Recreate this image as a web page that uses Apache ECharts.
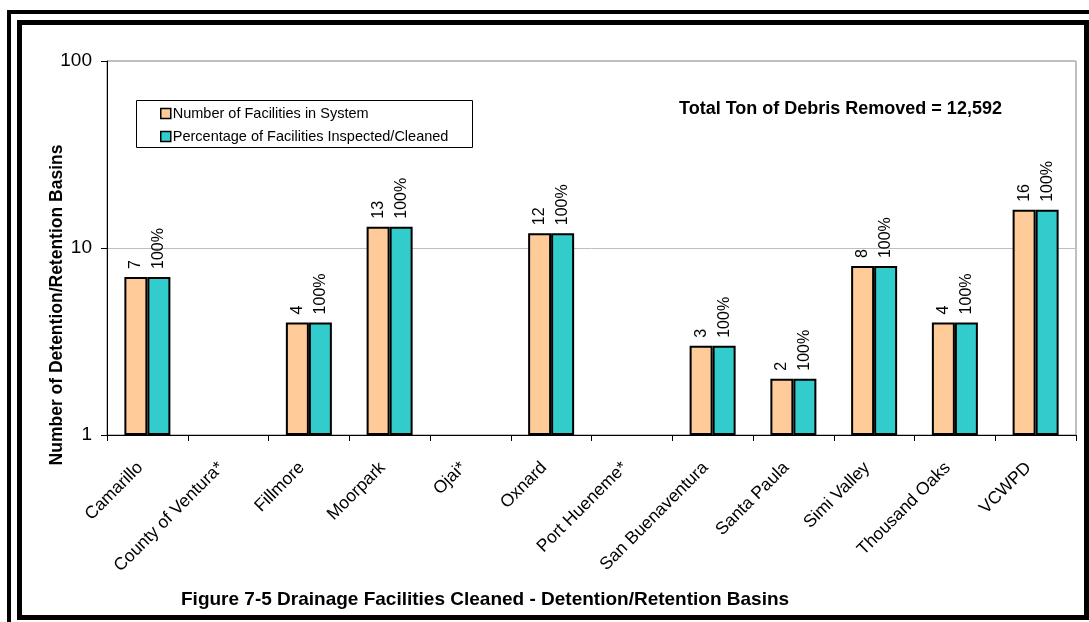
<!DOCTYPE html>
<html>
<head>
<meta charset="utf-8">
<script src="https://cdn.jsdelivr.net/npm/echarts@6/dist/echarts.min.js"></script>
<style>
  html, body { margin: 0; padding: 0; background: #fff; }
  #chart { width: 1089px; height: 622px; }
</style>
</head>
<body>
<div id="chart"></div>
<script>
// Detention/retention basins by agency
const categories = ['Camarillo', 'County of Ventura*', 'Fillmore', 'Moorpark', 'Ojai*', 'Oxnard',
  'Port Hueneme*', 'San Buenaventura', 'Santa Paula', 'Simi Valley', 'Thousand Oaks', 'VCWPD'];
const facilityCounts = [7, null, 4, 13, null, 12, null, 3, 2, 8, 4, 16];
const percentCleaned = [100, null, 100, 100, null, 100, null, 100, 100, 100, 100, 100];
const yTickValues = [1, 10, 100];
const seriesNames = ['Number of Facilities in System', 'Percentage of Facilities Inspected/Cleaned'];
const totalDebrisText = 'Total Ton of Debris Removed = 12,592';
const figureCaption = 'Figure 7-5 Drainage Facilities Cleaned - Detention/Retention Basins';
const yAxisTitle = 'Number of Detention/Retention Basins';

// facilities inspected = facilities in system x percentage
const inspectedCounts = facilityCounts.map((n, i) => (n == null ? null : n * percentCleaned[i] / 100));

const FONT = "'Liberation Sans', Arial, sans-serif";

const chart = echarts.init(document.getElementById('chart'), null, { renderer: 'canvas' });

const barLabel = {
  show: true,
  position: 'top',
  rotate: 90,
  align: 'left',
  verticalAlign: 'middle',
  distance: 8,
  fontFamily: FONT,
  fontSize: 16,
  color: '#000'
};

chart.setOption({
  animation: false,
  backgroundColor: '#fff',
  grid: {
    left: 107, right: 13, top: 61, bottom: 187,
    show: true, borderColor: '#808080', borderWidth: 1, backgroundColor: 'transparent'
  },
  legend: {
    orient: 'vertical',
    left: 155, top: 101,
    itemWidth: 10, itemHeight: 10, itemGap: 8,
    icon: 'rect',
    itemStyle: { borderColor: '#000', borderWidth: 1.5 },
    textStyle: { fontFamily: FONT, fontSize: 14.5, color: '#000', padding: [0, 0, 0, -3], lineHeight: 14 },
    data: seriesNames
  },
  xAxis: {
    type: 'category',
    data: categories,
    boundaryGap: true,
    axisLine: { lineStyle: { color: '#000', width: 1 } },
    axisTick: { show: true, length: 6, lineStyle: { color: '#000' } },
    axisLabel: {
      rotate: 45, margin: 23, interval: 0,
      padding: [0, 10, 0, 0],
      fontFamily: FONT, fontSize: 17.5, color: '#000'
    },
    splitLine: { show: false }
  },
  yAxis: {
    type: 'log',
    logBase: 10,
    min: yTickValues[0],
    max: yTickValues[yTickValues.length - 1],
    axisLine: { show: true, lineStyle: { color: '#000', width: 1 } },
    axisTick: { show: true, length: 6, lineStyle: { color: '#000' } },
    axisLabel: { margin: 15, fontFamily: FONT, fontSize: 19, color: '#000' },
    splitLine: { show: true, lineStyle: { color: '#BFBFBF', width: 1 } },
    minorTick: { show: false }
  },
  series: [
    {
      name: seriesNames[0],
      type: 'bar',
      data: facilityCounts,
      barWidth: 23,
      barGap: '0%',
      itemStyle: { color: '#FFCC99', borderColor: '#000', borderWidth: 2 },
      label: Object.assign({}, barLabel, { formatter: p => String(p.value) })
    },
    {
      name: seriesNames[1],
      type: 'bar',
      data: inspectedCounts,
      barWidth: 23,
      itemStyle: { color: '#33CCCC', borderColor: '#000', borderWidth: 2 },
      label: Object.assign({}, barLabel, { formatter: p => percentCleaned[p.dataIndex] + '%' })
    }
  ],
  graphic: [
    // double frame around the figure
    { type: 'rect', shape: { x: 7, y: 10, width: 1082, height: 4 }, style: { fill: '#000' }, silent: true },
    { type: 'rect', shape: { x: 7, y: 10, width: 4, height: 612 }, style: { fill: '#000' }, silent: true },
    { type: 'rect', shape: { x: 19.5, y: 22.5, width: 1067, height: 595 },
      style: { fill: 'none', stroke: '#000', lineWidth: 5 }, silent: true },
    // legend box
    { type: 'rect', shape: { x: 136.5, y: 100.5, width: 336, height: 47 },
      style: { fill: 'none', stroke: '#000', lineWidth: 1 }, silent: true, z: 10 },
    { type: 'text', left: 679, top: 100,
      style: { text: totalDebrisText, font: "bold 18px " + FONT, fill: '#000' } },
    { type: 'text', left: 181, top: 590,
      style: { text: figureCaption, font: "bold 19px " + FONT, fill: '#000' } },
    { type: 'text', x: 57, y: 305, rotation: Math.PI / 2,
      style: { text: yAxisTitle, font: "bold 17.5px " + FONT, fill: '#000', align: 'center', verticalAlign: 'middle' } }
  ]
});
</script>
</body>
</html>
